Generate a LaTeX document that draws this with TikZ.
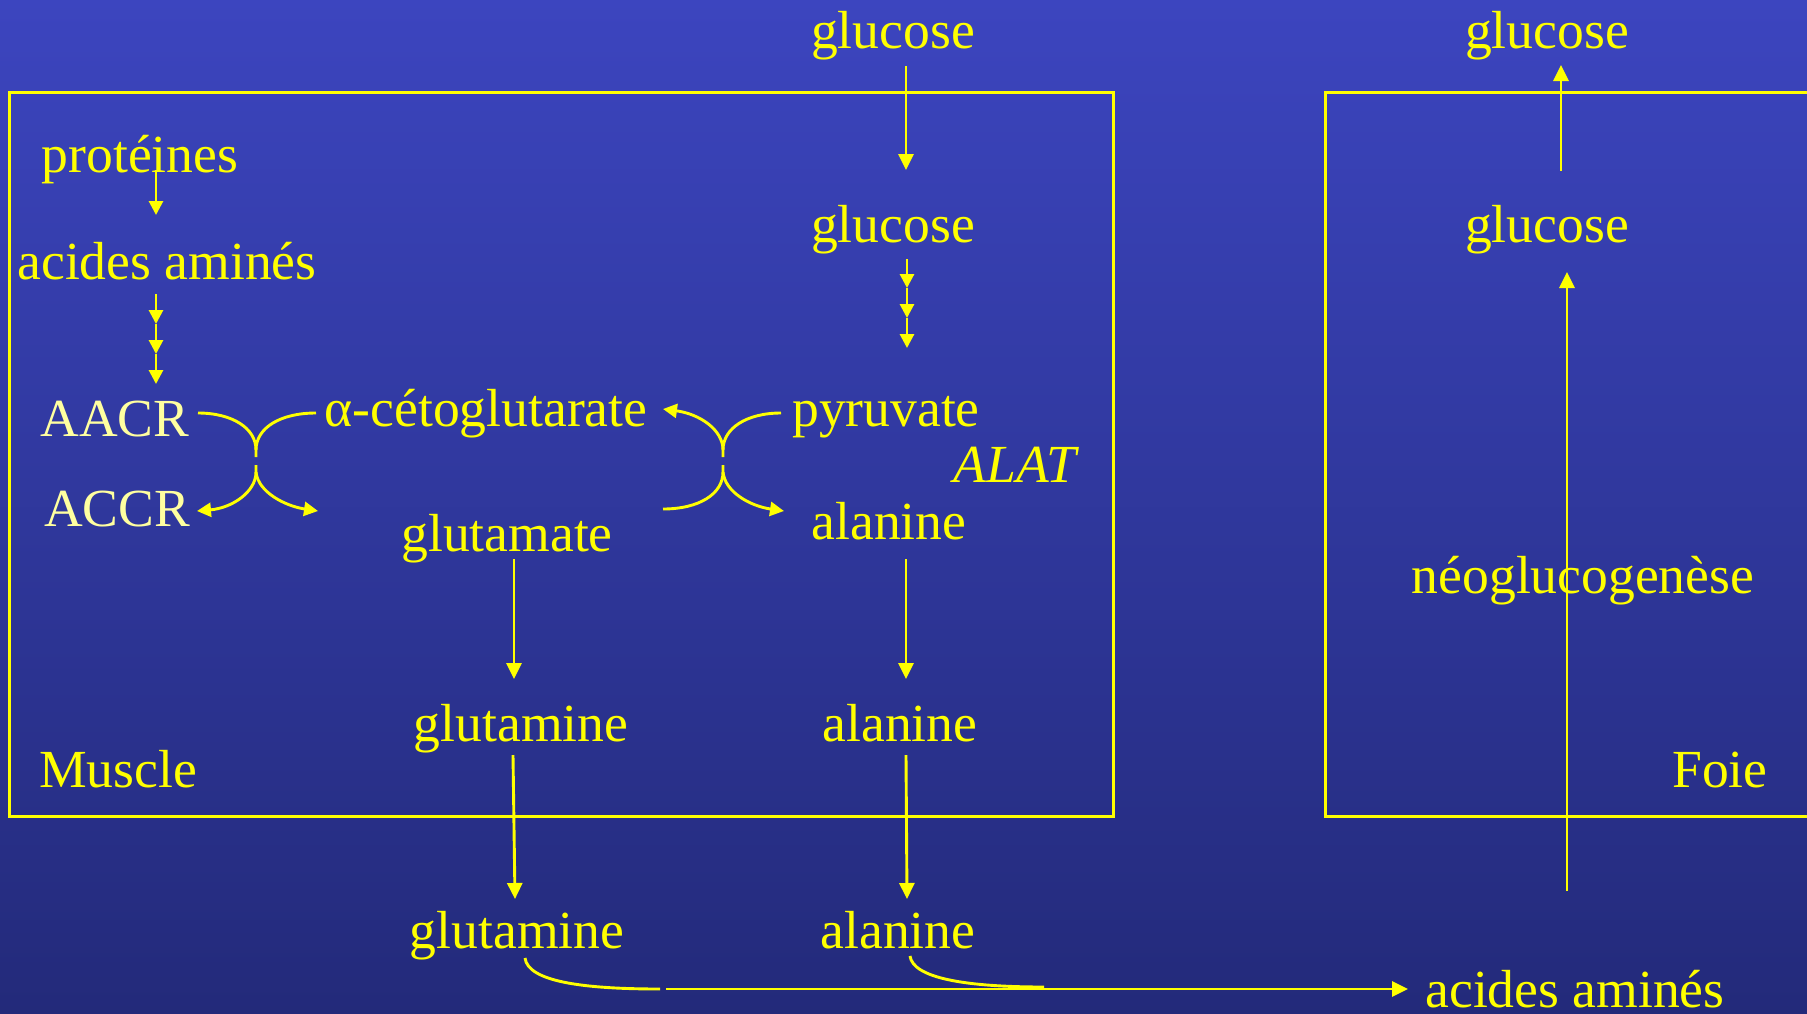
\documentclass[tikz,border=0pt]{standalone}
\usepackage{fontspec}
\setmainfont{Liberation Serif}
\usetikzlibrary{arrows.meta}
\definecolor{bgtop}{RGB}{60,69,191}
\definecolor{bgbot}{RGB}{35,42,122}
\definecolor{ylw}{RGB}{255,255,0}
\definecolor{pale}{RGB}{255,255,160}
\tikzset{
  lbl/.style={text=ylw, anchor=base, inner sep=0pt, font=\fontsize{53.6}{60}\selectfont},
  plbl/.style={lbl, text=pale},
  ln/.style={draw=ylw, line width=2.9pt},
  arr/.style={ln, -{Triangle[width=15pt,length=16pt]}},
  sarr/.style={ln, -{Triangle[width=14pt,length=14pt]}},
  frame/.style={draw=ylw, line width=3pt}
}
\begin{document}
\begin{tikzpicture}[x=1pt,y=-1pt]
\useasboundingbox (0,0) rectangle (1807,1013);
\shade[top color=bgtop, bottom color=bgbot] (0,0) rectangle (1807,1013);
\clip (0,0) rectangle (1807,1013);

% boxes
\draw[frame] (9,92) rectangle (1113,816);
\draw[frame] (1325,92) rectangle (1830,816);

% labels
\node[lbl] (gtop) at (893,48) {glucose};
\node[lbl] (gmus) at (893,242) {glucose};
\node[lbl] (pyr) at (886,426) {pyruvate};
\node[lbl, font=\fontsize{53.6}{60}\selectfont\itshape] (alat) at (1015,482) {ALAT};
\node[lbl] (ala1) at (889,539) {alanine};
\node[lbl] (ala2) at (900,741) {alanine};
\node[lbl] (ala3) at (898,948) {alanine};
\node[lbl] (glu) at (507,551) {glutamate};
\node[lbl] (gln1) at (521,741) {glutamine};
\node[lbl] (gln2) at (517,948) {glutamine};
\node[lbl] (akg) at (486,426) {α-cétoglutarate};
\node[plbl] (aacr) at (115,436) {AACR};
\node[plbl] (accr) at (117,526) {ACCR};
\node[lbl] (prot) at (140,172) {protéines};
\node[lbl] (aa) at (167,279) {acides aminés};
\node[lbl] (muscle) at (118,787) {Muscle};
\node[lbl] (foie) at (1720,787) {Foie};
\node[lbl] (aab) at (1575,1007) {acides aminés};
\node[lbl] (gfoie) at (1547,242) {glucose};
\node[lbl] (gout) at (1547,48) {glucose};
\node[lbl] (neo) at (1583,593) {néoglucogenèse};

% coordinates for connector ends
\coordinate (g1s) at (906,66);   \coordinate (g1e) at (906,170);
\coordinate (g2s) at (907,259);  \coordinate (g2a) at (907,288);
\coordinate (g2b) at (907,318);  \coordinate (g2c) at (907,348);
\coordinate (ps) at (156,170);   \coordinate (pe) at (156,215);
\coordinate (as) at (156,294);   \coordinate (aa1) at (156,324);
\coordinate (aa2) at (156,354);  \coordinate (aa3) at (156,384);
\coordinate (a1s) at (906,559);  \coordinate (a1e) at (906,679);
\coordinate (a2s) at (906,755);  \coordinate (a2e) at (907,899);
\coordinate (gls) at (514,559);  \coordinate (gle) at (514,679);
\coordinate (gn1s) at (513,755); \coordinate (gn1e) at (515,899);
\coordinate (fs) at (1561,171);  \coordinate (fe) at (1561,65);
\coordinate (nbs) at (1567,891); \coordinate (nbe) at (1567,272);
% left junction
\coordinate (aacrE) at (198,413); \coordinate (akgW) at (316,413);
\coordinate (jLt) at (256,457);   \coordinate (jLb) at (256,465);
\coordinate (accrT) at (197,511); \coordinate (gluT) at (318,511);
% right junction
\coordinate (pyrW) at (781,413);  \coordinate (akgT) at (663,409);
\coordinate (jRt) at (723,457);   \coordinate (jRb) at (723,465);
\coordinate (gluE) at (663,509);  \coordinate (alaT) at (784,511);
% bottom
\coordinate (gnC) at (525,958);  \coordinate (gnCe) at (660,989);
\coordinate (alC) at (910,956);  \coordinate (alCe) at (1044,987);
\coordinate (bls) at (666,989);  \coordinate (ble) at (1408,989);

% vertical arrows
\draw[arr] (g1s) -- (g1e);
\draw[sarr] (g2s) -- (g2a);
\draw[sarr] (g2a) -- (g2b);
\draw[sarr] (g2b) -- (g2c);
\draw[sarr] (ps) -- (pe);
\draw[sarr] (as) -- (aa1);
\draw[sarr] (aa1) -- (aa2);
\draw[sarr] (aa2) -- (aa3);
\draw[arr] (a1s) -- (a1e);
\draw[arr] (a2s) -- (a2e);
\draw[arr] (gls) -- (gle);
\draw[arr] (gn1s) -- (gn1e);
\draw[arr] (fs) -- (fe);
\draw[arr] (nbs) -- (nbe);

% left junction curves
\draw[ln] (aacrE) .. controls (232,413) and (256,428) .. (256,450) -- (jLt);
\draw[ln] (akgW) .. controls (280,413) and (256,428) .. (256,450);
\draw[sarr] (jLb) -- (256,472) .. controls (256,492) and (232,508) .. (accrT);
\draw[sarr] (256,472) .. controls (258,492) and (285,506) .. (gluT);

% right junction curves
\draw[ln] (pyrW) .. controls (747,413) and (723,428) .. (723,450) -- (jRt);
\draw[sarr] (723,450) .. controls (723,430) and (700,414) .. (akgT);
\draw[ln] (gluE) .. controls (699,509) and (723,494) .. (723,472) -- (jRb);
\draw[sarr] (723,472) .. controls (725,492) and (750,506) .. (alaT);

% bottom curves and line
\draw[ln] (gnC) .. controls (528,982) and (585,989) .. (gnCe);
\draw[ln] (alC) .. controls (913,978) and (965,987) .. (alCe);
\draw[arr] (bls) -- (ble);
\end{tikzpicture}
\end{document}
